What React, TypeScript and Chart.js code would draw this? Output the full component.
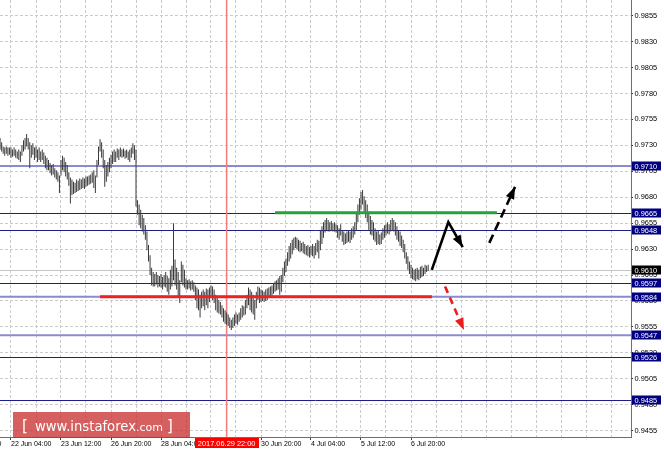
import React, { useEffect, useRef } from 'react';
import { Chart, registerables } from 'chart.js';

Chart.register(...registerables);

// Hourly bars (high / low), first bar sits at index 1 (21 Jun 21:00)
const barHigh = [
  0.9737, 0.9733, 0.9729, 0.9728, 0.9729, 0.9728, 0.9728, 0.9728, 0.9726, 0.9728,
  0.9726, 0.9724, 0.9726, 0.9724, 0.9730, 0.9735, 0.9737, 0.9741, 0.9737, 0.9733,
  0.9730, 0.9732, 0.9728, 0.9729, 0.9726, 0.9728, 0.9724, 0.9726, 0.9723, 0.9720,
  0.9718, 0.9716, 0.9713, 0.9711, 0.9712, 0.9708, 0.9706, 0.9704, 0.9701, 0.9716,
  0.9720, 0.9718, 0.9714, 0.9711, 0.9704, 0.9699, 0.9697, 0.9695, 0.9694, 0.9697,
  0.9696, 0.9698, 0.9697, 0.9699, 0.9698, 0.9700, 0.9700, 0.9701, 0.9702, 0.9704,
  0.9706, 0.9701, 0.9716, 0.9729, 0.9736, 0.9733, 0.9726, 0.9716, 0.9711, 0.9714,
  0.9718, 0.9721, 0.9724, 0.9726, 0.9724, 0.9727, 0.9726, 0.9728, 0.9726, 0.9727,
  0.9725, 0.9726, 0.9724, 0.9726, 0.9728, 0.9732, 0.9730, 0.9726, 0.9677, 0.9673,
  0.9668, 0.9663, 0.9660, 0.9653, 0.9647, 0.9634, 0.9624, 0.9612, 0.9608, 0.9606,
  0.9608, 0.9605, 0.9604, 0.9606, 0.9603, 0.9605, 0.9608, 0.9604, 0.9602, 0.9610,
  0.9614, 0.9655, 0.9620, 0.9612, 0.9608, 0.9600, 0.9618, 0.9615, 0.9610, 0.9602,
  0.9600, 0.9601, 0.9599, 0.9600, 0.9598, 0.9595, 0.9593, 0.9591, 0.9586, 0.9589,
  0.9591, 0.9589, 0.9592, 0.9591, 0.9593, 0.9595, 0.9594, 0.9591, 0.9586, 0.9583,
  0.9581, 0.9579, 0.9576, 0.9573, 0.9571, 0.9569, 0.9567, 0.9564, 0.9562, 0.9564,
  0.9567, 0.9569, 0.9567, 0.9569, 0.9573, 0.9576, 0.9575, 0.9581, 0.9586, 0.9593,
  0.9591, 0.9589, 0.9586, 0.9581, 0.9589, 0.9594, 0.9593, 0.9591, 0.9590, 0.9589,
  0.9591, 0.9592, 0.9593, 0.9594, 0.9595, 0.9597, 0.9599, 0.9600, 0.9602, 0.9604,
  0.9605, 0.9612, 0.9618, 0.9621, 0.9627, 0.9633, 0.9636, 0.9639, 0.9641, 0.9642,
  0.9641, 0.9639, 0.9638, 0.9636, 0.9637, 0.9635, 0.9633, 0.9634, 0.9632, 0.9633,
  0.9635, 0.9633, 0.9636, 0.9639, 0.9638, 0.9648, 0.9652, 0.9656, 0.9658, 0.9660,
  0.9658, 0.9656, 0.9657, 0.9655, 0.9656, 0.9654, 0.9653, 0.9650, 0.9654, 0.9648,
  0.9647, 0.9645, 0.9647, 0.9648, 0.9647, 0.9650, 0.9652, 0.9656, 0.9666, 0.9673,
  0.9679, 0.9685, 0.9687, 0.9681, 0.9677, 0.9673, 0.9666, 0.9662, 0.9658, 0.9656,
  0.9650, 0.9647, 0.9648, 0.9644, 0.9646, 0.9650, 0.9653, 0.9654, 0.9656, 0.9654,
  0.9658, 0.9660, 0.9658, 0.9656, 0.9652, 0.9648, 0.9647, 0.9643, 0.9639, 0.9635,
  0.9627, 0.9623, 0.9618, 0.9615, 0.9612, 0.9610, 0.9611, 0.9612, 0.9610, 0.9613,
  0.9614, 0.9612, 0.9615, 0.9614, 0.9615,
];
const barLow = [
  0.9726, 0.9724, 0.9722, 0.9720, 0.9722, 0.9720, 0.9721, 0.9718, 0.9719, 0.9720,
  0.9718, 0.9717, 0.9716, 0.9714, 0.9720, 0.9724, 0.9726, 0.9729, 0.9726, 0.9708,
  0.9718, 0.9721, 0.9716, 0.9718, 0.9714, 0.9716, 0.9714, 0.9716, 0.9712, 0.9708,
  0.9706, 0.9706, 0.9703, 0.9701, 0.9702, 0.9699, 0.9697, 0.9695, 0.9684, 0.9701,
  0.9706, 0.9704, 0.9700, 0.9697, 0.9691, 0.9674, 0.9682, 0.9683, 0.9684, 0.9685,
  0.9686, 0.9687, 0.9688, 0.9689, 0.9688, 0.9690, 0.9691, 0.9692, 0.9693, 0.9694,
  0.9689, 0.9684, 0.9699, 0.9711, 0.9724, 0.9718, 0.9708, 0.9690, 0.9695, 0.9700,
  0.9704, 0.9708, 0.9712, 0.9714, 0.9714, 0.9718, 0.9716, 0.9719, 0.9718, 0.9719,
  0.9717, 0.9718, 0.9716, 0.9714, 0.9718, 0.9722, 0.9716, 0.9671, 0.9663, 0.9653,
  0.9650, 0.9647, 0.9644, 0.9639, 0.9629, 0.9618, 0.9605, 0.9595, 0.9594, 0.9594,
  0.9596, 0.9593, 0.9594, 0.9593, 0.9591, 0.9594, 0.9593, 0.9589, 0.9586, 0.9591,
  0.9594, 0.9600, 0.9595, 0.9591, 0.9583, 0.9578, 0.9598, 0.9595, 0.9593, 0.9591,
  0.9591, 0.9592, 0.9590, 0.9591, 0.9589, 0.9581, 0.9573, 0.9571, 0.9564, 0.9573,
  0.9575, 0.9571, 0.9576, 0.9573, 0.9579, 0.9583, 0.9581, 0.9578, 0.9571, 0.9569,
  0.9568, 0.9567, 0.9564, 0.9560, 0.9558, 0.9557, 0.9556, 0.9554, 0.9552, 0.9554,
  0.9556, 0.9558, 0.9557, 0.9560, 0.9562, 0.9564, 0.9566, 0.9567, 0.9573, 0.9576,
  0.9571, 0.9569, 0.9567, 0.9562, 0.9573, 0.9581, 0.9578, 0.9579, 0.9580, 0.9579,
  0.9580, 0.9581, 0.9583, 0.9584, 0.9585, 0.9587, 0.9589, 0.9590, 0.9591, 0.9586,
  0.9589, 0.9598, 0.9604, 0.9608, 0.9614, 0.9618, 0.9621, 0.9625, 0.9629, 0.9631,
  0.9630, 0.9628, 0.9627, 0.9628, 0.9626, 0.9625, 0.9624, 0.9623, 0.9622, 0.9624,
  0.9623, 0.9621, 0.9624, 0.9627, 0.9621, 0.9629, 0.9635, 0.9641, 0.9646, 0.9648,
  0.9647, 0.9647, 0.9648, 0.9647, 0.9647, 0.9646, 0.9641, 0.9639, 0.9643, 0.9637,
  0.9634, 0.9635, 0.9636, 0.9637, 0.9636, 0.9639, 0.9641, 0.9644, 0.9648, 0.9656,
  0.9663, 0.9668, 0.9673, 0.9666, 0.9660, 0.9656, 0.9648, 0.9644, 0.9643, 0.9639,
  0.9637, 0.9634, 0.9635, 0.9634, 0.9635, 0.9639, 0.9641, 0.9643, 0.9645, 0.9644,
  0.9647, 0.9648, 0.9647, 0.9643, 0.9639, 0.9637, 0.9633, 0.9631, 0.9627, 0.9621,
  0.9616, 0.9610, 0.9606, 0.9602, 0.9601, 0.9600, 0.9599, 0.9601, 0.9600, 0.9602,
  0.9603, 0.9604, 0.9606, 0.9608, 0.9609,
];
const firstBarIndex = 1;

// Time axis (bar index of each labelled tick)
const timeTickIndex = [-24, 8, 40, 72, 104, 136, 168, 200, 232, 264];
const timeTickLabels = [
  '20 Jun 20:00', '22 Jun 04:00', '23 Jun 12:00', '26 Jun 20:00', '28 Jun 04:00',
  '29 Jun 12:00', '30 Jun 20:00', '4 Jul 04:00', '5 Jul 12:00', '6 Jul 20:00',
];
const timeGridStep = 16;
const xMin = 0.96;
const xMax = 404.8;

// Price axis
const yMin = 0.94489;
const yMax = 0.98701;
const priceTicks = [
  0.9455, 0.948, 0.9505, 0.953, 0.9555, 0.958, 0.9605, 0.963, 0.9655,
  0.968, 0.9705, 0.973, 0.9755, 0.978, 0.9805, 0.983, 0.9855,
];

// Horizontal levels
const levelPrices = [0.971, 0.9665, 0.9648, 0.9597, 0.9584, 0.9547, 0.9526, 0.9485];
const levelLight = [true, false, false, false, true, true, false, false];
const currentPrice = 0.961;

// Vertical time marker
const markerIndex = 146;
const markerLabel = '2017.06.29 22:00';

// Drawn objects (bar index, price)
const greenLineX = [177, 319];
const greenLineY = [0.9665, 0.9665];
const redLineX = [65, 277.4];
const redLineY = [0.9584, 0.9584];
const mainArrowX = [277.3, 287.9, 297.1];
const mainArrowY = [0.961, 0.9656, 0.9632];
const upArrowX = [314.1, 330.6];
const upArrowY = [0.9636, 0.969];
const downArrowX = [285.8, 297.9];
const downArrowY = [0.9594, 0.9552];

const watermarkParts = ['[', 'www.instaforex', '.com', ']'];

const AXIS_FONT = "'Liberation Sans', Arial, sans-serif";

function pts(xs: number[], ys: number[]) {
  return xs.map((x, i) => ({ x, y: ys[i] }));
}

const overlayPlugin = {
  id: 'overlay',
  beforeDatasetsDraw(chart: any) {
    const { ctx, chartArea: a, scales } = chart;
    const x = scales.x;
    const y = scales.y;
    ctx.save();
    const cy = Math.round(y.getPixelForValue(currentPrice)) + 0.5;
    ctx.strokeStyle = '#c4c4c4';
    ctx.lineWidth = 1;
    ctx.beginPath();
    ctx.moveTo(a.left, cy);
    ctx.lineTo(a.right, cy);
    ctx.stroke();
    levelPrices.forEach((p, i) => {
      const py = y.getPixelForValue(p);
      ctx.beginPath();
      if (levelLight[i]) {
        ctx.strokeStyle = '#8a8ad0';
        ctx.lineWidth = 2;
        ctx.moveTo(a.left, py);
        ctx.lineTo(a.right, py);
      } else {
        ctx.strokeStyle = '#1e1e84';
        ctx.lineWidth = 1;
        const yy = Math.round(py) + 0.5;
        ctx.moveTo(a.left, yy);
        ctx.lineTo(a.right, yy);
      }
      ctx.stroke();
    });
    const mx = x.getPixelForValue(markerIndex);
    ctx.strokeStyle = '#f37c7c';
    ctx.lineWidth = 1.5;
    ctx.beginPath();
    ctx.moveTo(mx, a.top);
    ctx.lineTo(mx, a.bottom);
    ctx.stroke();
    ctx.restore();
  },
  afterDatasetsDraw(chart: any) {
    const { ctx } = chart;
    chart.data.datasets.forEach((ds: any, i: number) => {
      if (!ds.arrowHead) return;
      const meta = chart.getDatasetMeta(i);
      const n = meta.data.length;
      const tip = meta.data[n - 1];
      const prev = meta.data[n - 2];
      const ang = Math.atan2(tip.y - prev.y, tip.x - prev.x);
      const len = 12;
      const half = 4.5;
      const bx = tip.x - Math.cos(ang) * len;
      const by = tip.y - Math.sin(ang) * len;
      ctx.save();
      ctx.fillStyle = ds.borderColor;
      ctx.beginPath();
      ctx.moveTo(tip.x, tip.y);
      ctx.lineTo(bx + Math.sin(ang) * half, by - Math.cos(ang) * half);
      ctx.lineTo(bx - Math.sin(ang) * half, by + Math.cos(ang) * half);
      ctx.closePath();
      ctx.fill();
      ctx.restore();
    });
  },
  afterDraw(chart: any) {
    const { ctx, chartArea: a, scales } = chart;
    const x = scales.x;
    const y = scales.y;
    ctx.save();
    ctx.font = `7.4px ${AXIS_FONT}`;
    ctx.textBaseline = 'middle';
    ctx.textAlign = 'left';
    const drawBox = (p: number, bg: string) => {
      const py = y.getPixelForValue(p);
      ctx.fillStyle = bg;
      ctx.fillRect(a.right + 1, Math.round(py) - 4.5, 29, 9);
      ctx.fillStyle = '#ffffff';
      ctx.fillText(p.toFixed(4), a.right + 3.5, Math.round(py) + 0.5);
    };
    levelPrices.forEach((p) => drawBox(p, '#000080'));
    drawBox(currentPrice, '#000000');

    const mx = x.getPixelForValue(markerIndex);
    const tw = ctx.measureText(markerLabel).width;
    ctx.fillStyle = '#ff0000';
    ctx.fillRect(Math.round(mx - tw / 2 - 3), a.bottom + 1, Math.round(tw + 6), 10);
    ctx.fillStyle = '#ffffff';
    ctx.textAlign = 'center';
    ctx.fillText(markerLabel, mx, a.bottom + 6.5);

    const wx = a.left + 13;
    const wy = a.bottom - 25;
    ctx.fillStyle = 'rgba(200, 40, 40, 0.74)';
    ctx.fillRect(wx, wy, 177, 26);
    ctx.fillStyle = '#ffffff';
    ctx.textAlign = 'left';
    ctx.textBaseline = 'alphabetic';
    const base = wy + 19;
    ctx.font = "15px 'DejaVu Sans', sans-serif";
    ctx.fillText(watermarkParts[0], wx + 9, base);
    ctx.font = "13.2px 'DejaVu Sans', sans-serif";
    ctx.fillText(watermarkParts[1], wx + 22, base);
    const w1 = ctx.measureText(watermarkParts[1]).width;
    ctx.font = "11px 'DejaVu Sans', sans-serif";
    ctx.fillText(watermarkParts[2], wx + 22 + w1, base);
    const w2 = ctx.measureText(watermarkParts[2]).width;
    ctx.font = "15px 'DejaVu Sans', sans-serif";
    ctx.fillText(watermarkParts[3], wx + 26 + w1 + w2, base);
    ctx.restore();
  },
};

export default function App() {
  const canvasRef = useRef<HTMLCanvasElement | null>(null);

  useEffect(() => {
    document.body.style.margin = '0';
    const canvas = canvasRef.current;
    if (!canvas) return;

    const gridTicks: number[] = [];
    for (let v = timeTickIndex[0]; v <= xMax; v += timeGridStep) gridTicks.push(v);

    const bars = barHigh.map((h, i) => ({ x: i + firstBarIndex, y: [barLow[i], h] }));

    const chart = new Chart(canvas, {
      type: 'bar',
      data: {
        datasets: [
          {
            type: 'line',
            data: pts(mainArrowX, mainArrowY),
            borderColor: '#000000',
            borderWidth: 2.6,
            pointRadius: 0,
            tension: 0,
            order: 0,
            arrowHead: true,
          } as any,
          {
            type: 'line',
            data: pts(upArrowX, upArrowY),
            borderColor: '#000000',
            borderWidth: 2.6,
            borderDash: [9, 5],
            pointRadius: 0,
            order: 0,
            arrowHead: true,
          } as any,
          {
            type: 'line',
            data: pts(downArrowX, downArrowY),
            borderColor: '#ee1c1c',
            borderWidth: 2.6,
            borderDash: [7, 5],
            pointRadius: 0,
            order: 0,
            arrowHead: true,
          } as any,
          {
            type: 'line',
            data: pts(greenLineX, greenLineY),
            borderColor: '#25a23c',
            borderWidth: 3,
            pointRadius: 0,
            order: 1,
          },
          {
            type: 'line',
            data: pts(redLineX, redLineY),
            borderColor: '#ee2222',
            borderWidth: 3,
            pointRadius: 0,
            order: 1,
          },
          {
            type: 'bar',
            data: bars as any,
            backgroundColor: '#3a3a3a',
            borderWidth: 0,
            barThickness: 1,
            inflateAmount: 0,
            grouped: false,
            order: 5,
          } as any,
        ],
      },
      options: {
        animation: false,
        responsive: false,
        devicePixelRatio: 1,
        layout: { padding: 0 },
        plugins: { legend: { display: false }, tooltip: { enabled: false } },
        scales: {
          x: {
            type: 'linear',
            min: xMin,
            max: xMax,
            offset: false,
            afterBuildTicks: (s: any) => {
              s.ticks = gridTicks.map((v) => ({ value: v }));
            },
            afterFit: (s: any) => {
              s.height = 15;
              s.paddingLeft = 0;
              s.paddingRight = 0;
            },
            grid: {
              offset: false,
              color: '#cbcbcb',
              lineWidth: 1,
              tickLength: 3,
              tickColor: (c: any) =>
                timeTickIndex.includes(c.tick?.value) ? '#444444' : 'rgba(0,0,0,0)',
            },
            border: { display: true, color: '#6e6e6e', width: 1, dash: [3, 2] },
            ticks: {
              autoSkip: false,
              maxRotation: 0,
              minRotation: 0,
              align: 'start',
              padding: 0,
              color: '#000000',
              font: { family: AXIS_FONT, size: 7 },
              callback: (v: any) => {
                const k = timeTickIndex.indexOf(Number(v));
                return k >= 0 ? timeTickLabels[k] : '';
              },
            },
          },
          y: {
            type: 'linear',
            position: 'right',
            min: yMin,
            max: yMax,
            afterBuildTicks: (s: any) => {
              s.ticks = priceTicks.map((v) => ({ value: v }));
            },
            afterFit: (s: any) => {
              s.width = 33;
              s.paddingTop = 0;
              s.paddingBottom = 0;
            },
            grid: {
              color: '#cbcbcb',
              lineWidth: 1,
              tickLength: 2,
              tickColor: '#333333',
            },
            border: { display: true, color: '#6e6e6e', width: 1, dash: [3, 2] },
            ticks: {
              padding: 1.5,
              color: '#000000',
              font: { family: AXIS_FONT, size: 7.4 },
              callback: (v: any) => Number(v).toFixed(4),
            },
          },
        },
      } as any,
      plugins: [overlayPlugin],
    });

    return () => chart.destroy();
  }, []);

  return (
    <div style={{ width: 664, height: 452, position: 'relative', background: '#ffffff' }}>
      <canvas ref={canvasRef} width={664} height={452} style={{ display: 'block' }} />
    </div>
  );
}
